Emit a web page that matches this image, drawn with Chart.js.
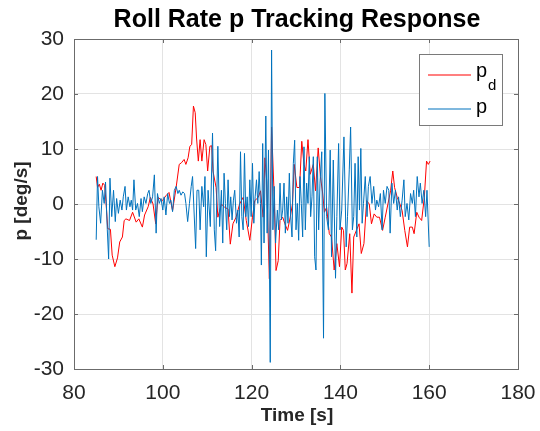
<!DOCTYPE html>
<html>
<head>
<meta charset="utf-8">
<script src="https://cdn.jsdelivr.net/npm/chart.js@4"></script>
<style>
  html, body { margin: 0; padding: 0; background: #fff; }
  canvas { display: block; }
</style>
</head>
<body>
<canvas id="myChart" width="540" height="431"></canvas>
<script>
// axis ticks
const xTicks = [80, 100, 120, 140, 160, 180];
const yTicks = [-30, -20, -10, 0, 10, 20, 30];

// desired roll rate p_d
const pdTime = [85.0, 85.3, 85.7, 86.1, 86.5, 86.9, 87.2, 87.6, 88.2, 88.6, 89.2, 89.8, 90.3, 90.9, 91.3, 91.7,
  92.5, 93.2, 94.0, 94.6, 95.4, 95.9, 96.7, 97.2, 97.8, 98.4, 98.9, 99.9, 100.7, 101.4, 102.2, 103.0,
  103.7, 104.2, 104.8, 105.2, 105.7, 106.1, 106.5, 106.9, 107.3, 107.6, 108.0, 108.4, 108.8, 109.3, 109.7,
  110.1, 110.6, 111.0, 111.3, 112.0, 112.4, 113.2, 113.9, 114.7, 115.2, 115.8, 116.5, 117.3, 118.1, 118.8,
  119.6, 120.2, 120.7, 121.5, 122.0, 122.6, 123.0, 123.4, 124.0, 124.5, 125.1, 125.5, 126.0, 126.4, 127.0,
  127.5, 128.1, 128.7, 129.2, 129.6, 130.2, 130.8, 131.3, 131.8, 132.2, 132.7, 133.2, 133.9, 134.4, 135.0,
  135.5, 136.0, 136.4, 136.9, 137.5, 138.0, 138.6, 139.2, 139.8, 140.3, 140.7, 141.1, 141.5, 142.1, 142.6,
  143.0, 143.6, 144.2, 144.7, 145.3, 145.9, 146.5, 147.0, 147.6, 148.2, 148.8, 149.5, 150.1, 150.7, 151.3,
  151.8, 152.2, 152.8, 153.4, 153.9, 154.5, 155.1, 155.6, 156.2, 156.6, 157.2, 157.7, 158.3, 158.9, 159.4,
  159.8, 160.2];
const pdValues = [5.0, 3.0, 3.6, 2.5, 3.8, 3.4, 0.5, -4.5, -4.6, -9.3, -11.4, -9.8, -6.9, -6.0, -3.0, -2.7,
  -3.0, -1.5, -3.3, -2.7, -4.2, -2.0, -0.5, 1.2, 0.0, -3.6, 1.2, 0.6, 1.5, 2.1, -1.2, 3.0,
  7.2, 7.5, 8.1, 7.2, 8.4, 10.5, 10.8, 17.8, 16.6, 12.0, 7.8, 11.7, 7.8, 11.7, 10.8,
  6.0, 10.5, 10.6, 6.0, 3.0, -2.4, 0.0, -0.6, -0.9, -7.3, -3.6, -2.4, 0.0, 1.2, -3.0,
  -6.6, -2.4, 0.6, 1.2, 2.4, -2.4, 8.4, 4.2, -13.6, 14.0, 1.2, -12.1, -10.3, -3.0, -2.4,
  -3.6, -4.8, -2.4, 0.0, 7.2, 3.0, 3.0, 11.4, 7.2, 6.0, 11.7, 5.4, 7.2, 2.4, 10.2,
  5.0, 2.0, -1.5, -0.6, -5.4, -6.0, -12.0, -7.2, -11.4, -4.2, -4.8, -12.0, -10.8, -5.4, -16.2,
  -6.0, -4.8, -3.6, -9.0, -7.2, 0.6, 0.0, -3.6, -1.8, -2.4, -2.4, -4.8, -2.4, 0.0, 2.4,
  6.0, 3.0, 1.2, 0.0, -1.2, -4.8, -7.8, -4.2, -4.2, -5.4, -1.5, -2.4, -3.0, 1.2, 7.8,
  7.2, 7.8];

// measured roll rate p
const pTime = [85.0, 85.3, 85.6, 86.0, 86.4, 86.8, 87.1, 87.5, 87.8, 88.1, 88.5, 88.9, 89.3, 89.6, 90.0, 90.4,
  90.8, 91.1, 91.5, 91.8, 92.2, 92.6, 92.9, 93.2, 93.5, 93.9, 94.3, 94.7, 95.1, 95.4, 95.8, 96.2,
  96.6, 96.9, 97.3, 97.7, 98.1, 98.5, 98.8, 99.2, 99.6, 100.0, 100.3, 100.7, 101.1, 101.5, 101.8, 102.2,
  102.6, 103.0, 103.4, 103.7, 104.1, 104.5, 104.9, 105.2, 105.6, 106.0, 106.4, 106.7, 107.4, 107.7, 108.1,
  108.4, 108.8, 109.2, 109.5, 109.8, 110.2, 110.7, 111.2, 111.6, 111.9, 112.4, 112.8, 113.2, 113.5, 113.8,
  114.1, 114.4, 114.7, 115.0, 115.3, 115.6, 115.9, 116.2, 116.6, 116.9, 117.2, 117.5, 117.8, 118.1, 118.4,
  118.7, 119.0, 119.3, 119.6, 119.9, 120.2, 120.5, 120.8, 121.1, 121.4, 121.7, 122.0, 122.2, 122.5, 122.8,
  123.2, 123.5, 123.8, 124.2, 124.5, 124.8, 125.1, 125.4, 125.8, 126.1, 126.4, 126.7, 127.0, 127.3, 127.6,
  127.9, 128.2, 128.5, 128.8, 129.1, 129.4, 129.7, 130.0, 130.3, 130.6, 130.9, 131.2, 131.5, 131.8, 132.1,
  132.4, 132.7, 133.0, 133.3, 133.6, 133.9, 134.2, 134.5, 134.8, 135.1, 135.4, 135.8, 136.2, 136.5, 136.9,
  137.3, 137.7, 138.0, 138.4, 138.9, 139.2, 139.6, 139.9, 140.3, 140.8, 141.3, 141.6, 142.0, 142.3, 142.7,
  143.0, 143.3, 143.7, 144.0, 144.3, 144.6, 144.9, 145.2, 145.6, 146.0, 146.3, 146.7, 147.1, 147.5, 147.9,
  148.2, 148.6, 149.0, 149.4, 149.7, 150.1, 150.5, 150.9, 151.2, 151.6, 152.0, 152.4, 152.8, 153.1, 153.5,
  153.9, 154.3, 154.6, 155.0, 155.4, 155.8, 156.2, 156.5, 156.9, 157.3, 157.7, 158.0, 158.4, 158.8, 159.2,
  159.5, 160.0];
const pValues = [-6.5, 5.0, -0.5, -3.5, 2.5, 0.1, 4.0, -4.7, -10.0, 4.7, -2.3, 2.5, -3.2, 1.0, -1.7, 0.7,
  -1.1, 1.3, 3.2, -1.1, 1.3, -0.5, 0.7, -1.1, 4.4, -1.1, 0.1, -2.3, 1.0, -1.4, 1.3, 0.1,
  1.9, 2.5, 0.1, 1.3, 5.3, -5.3, 1.9, 0.1, 1.0, -1.1, 1.3, -2.0, 1.9, 0.1, 0.7, -1.4,
  2.5, 3.2, 1.9, 2.5, 1.6, 2.2, 1.9, 0.1, -3.2, 0.1, 3.2, 5.0, -8.1, 2.5, 2.5,
  -4.7, 3.2, -0.5, 5.0, -9.6, 2.5, -4.1, 12.9, -4.7, -8.5, 10.5, -4.1, 2.5, -7.1, 5.6,
  0.1, -4.7, 4.4, -2.3, 1.3, -2.9, 0.7, 2.5, -3.5, -1.1, -6.0, 9.5, -2.3, -4.7, 9.2,
  -2.3, 1.3, -4.1, 4.4, -2.3, 7.4, -3.5, 1.3, 4.4, 0.1, 5.9, 0.1, -11.1, 11.0, -7.1,
  16.0, -5.3, 9.8, -28.8, 28.0, -4.7, 3.2, -7.1, -1.1, -4.7, 3.8, -2.9, -1.1, 3.8, -5.3,
  1.3, -3.5, 5.6, -2.3, -6.0, 7.4, 11.6, -4.7, 0.1, -6.6, 5.0, 0.1, -6.0, 10.4, -4.7,
  3.8, 0.1, 8.6, -2.3, 1.3, 8.6, -9.6, -12.0, 8.6, -4.7, 3.8, 9.5, -24.4, 20.1, -2.3,
  -4.7, 9.8, -9.6, 8.0, -13.5, -2.3, 11.0, -4.7, -1.1, 12.2, -7.8, -2.3, 6.2, 14.0, -4.7,
  -2.3, 7.4, -6.0, 8.6, -1.1, 10.1, -3.5, 0.1, 5.0, -2.3, 3.2, 5.0, 0.1, 3.2, -1.1,
  0.7, -0.5, 1.9, -4.7, 2.5, 0.1, 3.2, 2.5, -5.3, 3.8, 0.1, 2.5, -1.1, 1.3, -2.3,
  0.7, 4.4, -2.3, 0.1, -2.9, 1.9, 0.1, 2.5, -2.3, 5.0, 1.3, 3.8, 0.1, 2.5, -2.3,
  2.5, -7.8];

const FONT = "'Liberation Sans', Arial, Helvetica, sans-serif";
const AXIS_COLOR = '#6b6b6b';
const TEXT_COLOR = '#262626';
const PD_COLOR = '#ff0000';
const P_COLOR = '#0072bd';

function toPoints(xs, ys) {
  return xs.map((x, i) => ({ x: x, y: ys[i] }));
}

// MATLAB style frame, inner ticks, titles and legend
const matlabDecor = {
  id: 'matlabDecor',
  afterDraw(chart) {
    const ctx = chart.ctx;
    const a = chart.chartArea;
    const xs = chart.scales.x;
    const ys = chart.scales.y;
    ctx.save();

    // box + inner tick marks
    ctx.strokeStyle = AXIS_COLOR;
    ctx.lineWidth = 1;
    ctx.strokeRect(Math.round(a.left) + 0.5, Math.round(a.top) + 0.5,
      Math.round(a.right - a.left), Math.round(a.bottom - a.top));
    ctx.beginPath();
    xTicks.forEach(v => {
      const px = Math.round(xs.getPixelForValue(v)) + 0.5;
      ctx.moveTo(px, a.bottom); ctx.lineTo(px, a.bottom - 4);
      ctx.moveTo(px, a.top); ctx.lineTo(px, a.top + 4);
    });
    yTicks.forEach(v => {
      const py = Math.round(ys.getPixelForValue(v)) + 0.5;
      ctx.moveTo(a.left, py); ctx.lineTo(a.left + 4, py);
      ctx.moveTo(a.right, py); ctx.lineTo(a.right - 4, py);
    });
    ctx.stroke();

    // title
    ctx.fillStyle = '#000';
    ctx.textAlign = 'center';
    ctx.textBaseline = 'alphabetic';
    ctx.font = 'bold 25px ' + FONT;
    ctx.fillText('Roll Rate p Tracking Response', 297, 27);

    // axis titles
    ctx.fillStyle = TEXT_COLOR;
    ctx.font = 'bold 19px ' + FONT;
    ctx.fillText('Time [s]', 297, 421);
    ctx.save();
    ctx.translate(27, 201);
    ctx.rotate(-Math.PI / 2);
    ctx.fillText('p [deg/s]', 0, 0);
    ctx.restore();

    // legend
    const lx = 419.5, ly = 54.5, lw = 83, lh = 71;
    ctx.fillStyle = '#fff';
    ctx.fillRect(lx, ly, lw, lh);
    ctx.strokeStyle = '#7a7a7a';
    ctx.lineWidth = 1;
    ctx.strokeRect(lx, ly, lw, lh);
    ctx.lineWidth = 1.2;
    ctx.strokeStyle = PD_COLOR;
    ctx.beginPath(); ctx.moveTo(428, 75); ctx.lineTo(471, 75); ctx.stroke();
    ctx.strokeStyle = P_COLOR;
    ctx.beginPath(); ctx.moveTo(428, 109); ctx.lineTo(471, 109); ctx.stroke();
    ctx.fillStyle = '#000';
    ctx.textAlign = 'left';
    ctx.font = '20px ' + FONT;
    ctx.fillText('p', 476, 77);
    ctx.fillText('p', 476, 113);
    ctx.font = '15px ' + FONT;
    ctx.fillText('d', 488, 90);

    ctx.restore();
  }
};

const ctx = document.getElementById('myChart').getContext('2d');
const myChart = new Chart(ctx, {
  type: 'line',
  data: {
    datasets: [
      {
        label: 'p_d',
        data: toPoints(pdTime, pdValues),
        borderColor: PD_COLOR,
        borderWidth: 1,
        pointRadius: 0,
        tension: 0,
        fill: false,
        order: 1
      },
      {
        label: 'p',
        data: toPoints(pTime, pValues),
        borderColor: P_COLOR,
        borderWidth: 1,
        pointRadius: 0,
        tension: 0,
        fill: false,
        order: 0
      }
    ]
  },
  options: {
    responsive: false,
    animation: false,
    layout: { padding: { top: 39, right: 22, left: 0, bottom: 0 } },
    plugins: {
      legend: { display: false },
      title: { display: false },
      tooltip: { enabled: false }
    },
    scales: {
      x: {
        type: 'linear',
        min: 80,
        max: 180,
        afterBuildTicks: s => { s.ticks = xTicks.map(v => ({ value: v })); },
        afterFit: s => { s.height = 62; s.paddingLeft = 0; s.paddingRight = 0; },
        grid: { color: '#e3e3e3', drawTicks: false },
        border: { display: false },
        ticks: { color: TEXT_COLOR, font: { family: FONT, size: 21 }, padding: 12, maxRotation: 0 }
      },
      y: {
        type: 'linear',
        min: -30,
        max: 30,
        afterBuildTicks: s => { s.ticks = yTicks.map(v => ({ value: v })); },
        afterFit: s => { s.width = 74; s.paddingTop = 0; s.paddingBottom = 0; },
        grid: { color: '#e3e3e3', drawTicks: false },
        border: { display: false },
        ticks: { color: TEXT_COLOR, font: { family: FONT, size: 21 }, padding: 10 }
      }
    }
  },
  plugins: [matlabDecor]
});
</script>
</body>
</html>
